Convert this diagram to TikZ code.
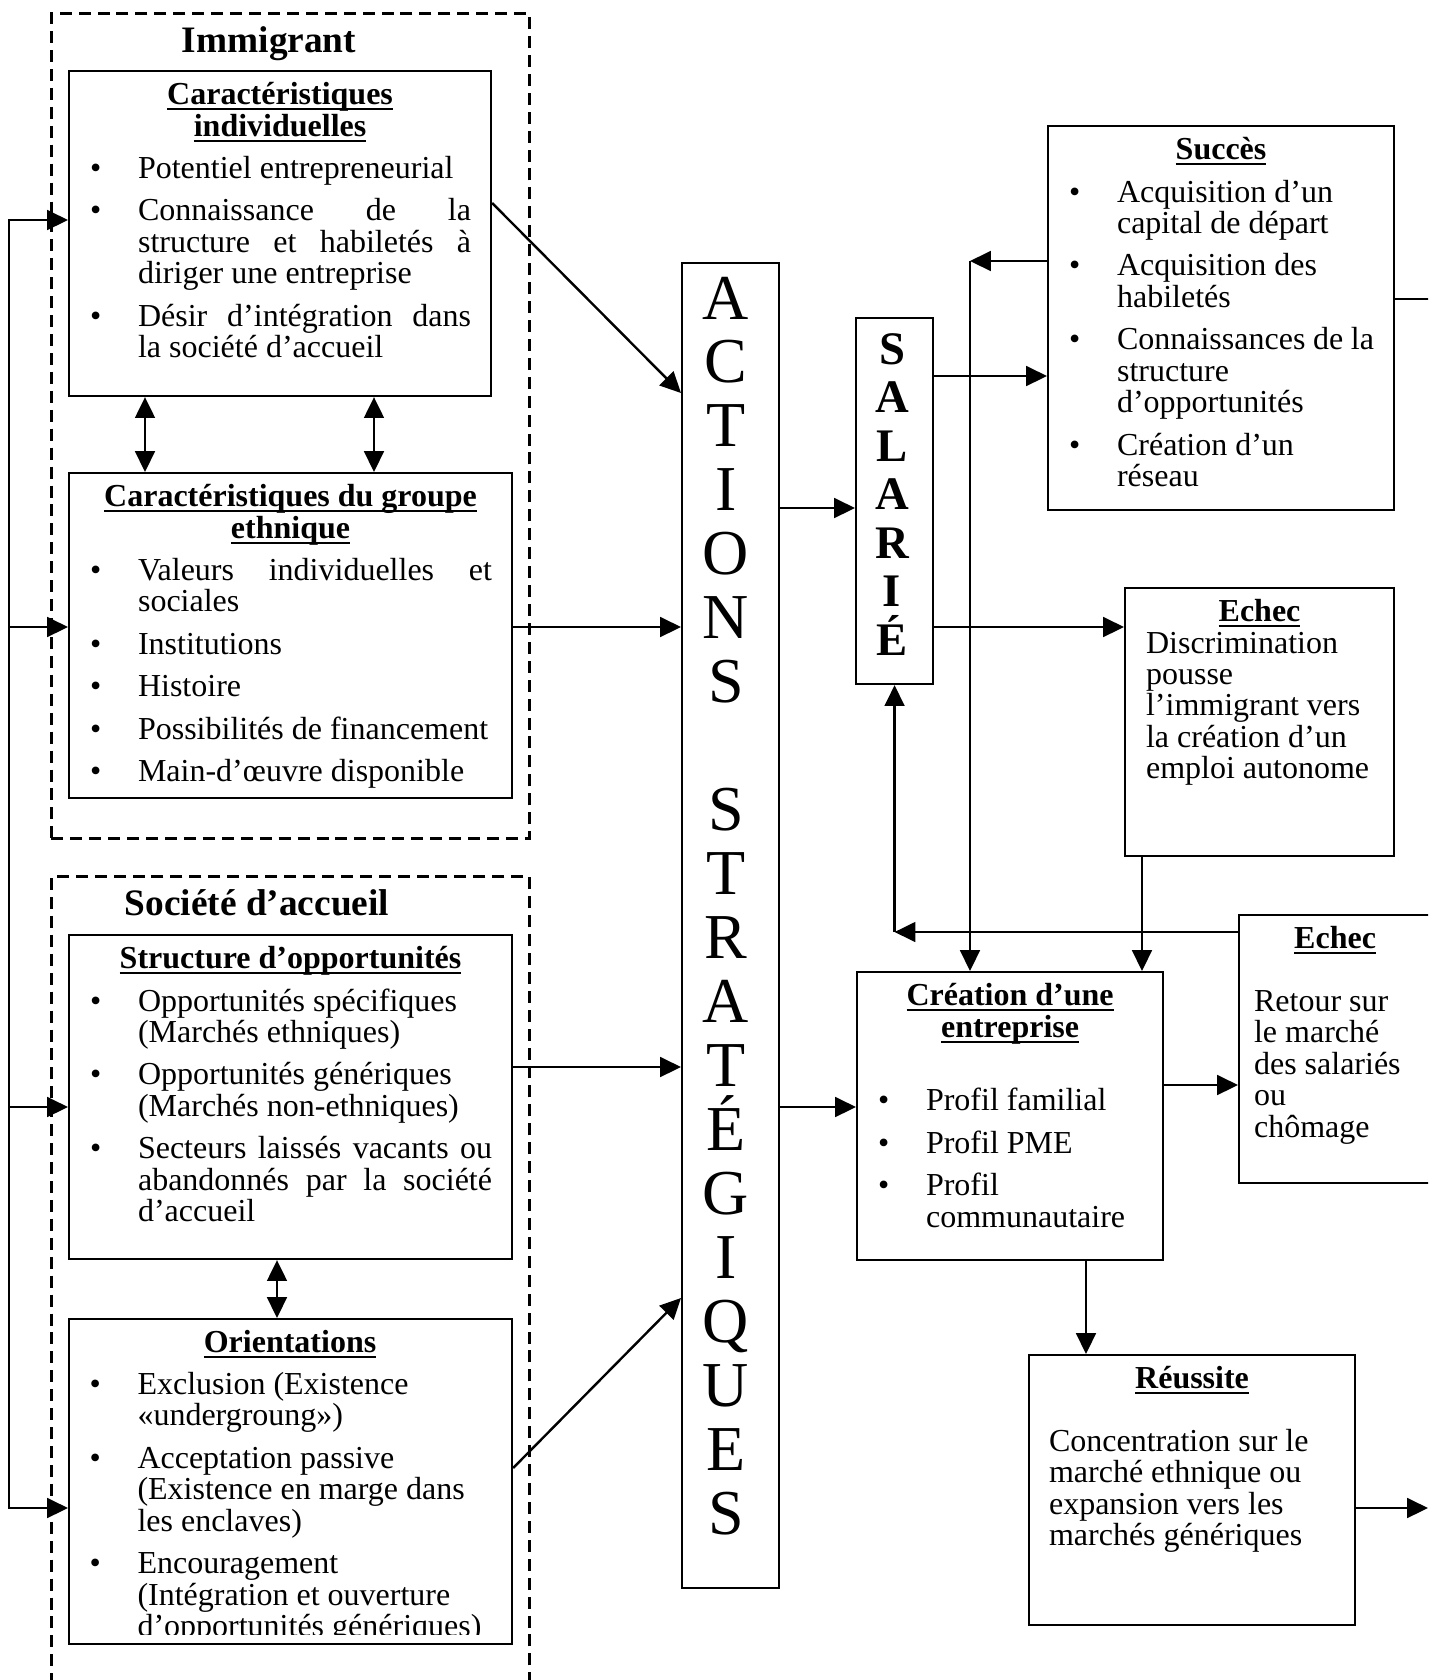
\documentclass[tikz,border=0pt]{standalone}
\usepackage{fontspec}
\setmainfont{Liberation Serif}
\usetikzlibrary{arrows.meta}

% one drawing unit
\newdimen\pxl \pxl=0.375pt

% text set inside the framed boxes
\newcommand\bodyfont{\fontsize{12}{11.8}\selectfont\lineskiplimit=-\maxdimen
  \parindent=0pt\parskip=0pt\rightskip=20\pxl\relax}
\newcommand\boxtext[3]{\parbox[c][#2\pxl][t]{#1\pxl}{\bodyfont\vskip2\pxl\hbox{}#3}}
\newcommand\uln[1]{\leavevmode\setbox0=\hbox{#1}\rlap{\rule[-2.2pt]{\wd0}{0.75pt}}\box0}
\newcommand\btitle[1]{{\centering\bfseries#1\par}}
\newcommand\bitem[1]{\par\parskip=11\pxl\hangindent=69\pxl\hangafter=1\noindent
  \hbox to 69\pxl{\hskip21\pxl\textbullet\hfil}#1\par}

\tikzset{
  boxframe/.style={draw, line width=0.8pt, inner sep=0pt},
  dashbox/.style={draw, dash pattern=on 4.5pt off 2.6pt, line width=1.1pt, inner sep=0pt},
  conn/.style={line width=0.9pt},
  arr/.style={conn, -{Triangle[length=7.8pt,width=7.4pt]}},
  dbl/.style={conn, {Triangle[length=7.8pt,width=7.4pt]}-{Triangle[length=7.8pt,width=7.4pt]}},
  grouplabel/.style={anchor=base, inner sep=0pt, font=\fontsize{14}{14}\selectfont\bfseries},
  bigletter/.style={anchor=base, inner sep=0pt, font=\fontsize{24}{24}\selectfont},
  boldletter/.style={anchor=base, inner sep=0pt, font=\fontsize{17.5}{17.5}\selectfont\bfseries},
}

\begin{document}
\begin{tikzpicture}[x=0.375pt, y=-0.375pt]
\useasboundingbox (0,0) rectangle (1435,1680);
\fill[white] (0,0) rectangle (1435,1680);
\clip (0,0) rectangle (1428,1680);

% ---------- group frames ----------
\node[dashbox, minimum width=478\pxl, minimum height=825\pxl, anchor=north west] (immig) at (50,12) {};
\node[dashbox, minimum width=478\pxl, minimum height=860\pxl, anchor=north west] (societe) at (50,875) {};
\node[grouplabel] (immig-label) at (269,52) {Immigrant};
\node[grouplabel] (societe-label) at (257,915) {Société d’accueil};

% ---------- left column ----------
\node[boxframe, anchor=north west] (indiv) at (68,70) {\boxtext{422}{325}{%
  \btitle{\uln{Caractéristiques}\\\uln{individuelles}}
  \bitem{Potentiel~entrepreneurial}
  \bitem{Connaissance~de~la\linebreak structure~et~habiletés~à\linebreak diriger~une~entreprise}
  \bitem{Désir~d’intégration~dans\linebreak la~société~d’accueil}}};

\node[boxframe, anchor=north west] (ethn) at (68,472) {\boxtext{443}{325}{%
  \btitle{\uln{Caractéristiques du groupe}\\\uln{ethnique}}
  \bitem{Valeurs~individuelles~et\linebreak sociales}
  \bitem{Institutions}
  \bitem{Histoire}
  \bitem{Possibilités~de~financement}
  \bitem{Main-d’œuvre~disponible}}};

\node[boxframe, anchor=north west] (opport) at (68,934) {\boxtext{443}{324}{%
  \btitle{\uln{Structure d’opportunités}}
  \bitem{Opportunités~spécifiques\\(Marchés~ethniques)}
  \bitem{Opportunités~génériques\\(Marchés~non-ethniques)}
  \bitem{Secteurs~laissés~vacants~ou\linebreak abandonnés~par~la~société\linebreak d’accueil}}};

\begin{scope}
  \clip (68,1318) rectangle (511,1634);
  \node[anchor=north west, inner sep=0pt] (orient-text) at (68,1318) {\boxtext{443}{325}{%
    \btitle{\uln{Orientations}}
    \bitem{Exclusion~(Existence\\«undergroung»)}
    \bitem{Acceptation~passive\\(Existence~en~marge~dans\\les~enclaves)}
    \bitem{Encouragement\\(Intégration~et~ouverture\\d’opportunités~génériques)}}};
\end{scope}
\node[boxframe, minimum width=443\pxl, minimum height=325\pxl, anchor=north west] (orient) at (68,1318) {};

% ---------- central columns ----------
\node[boxframe, minimum width=97\pxl, minimum height=1325\pxl, anchor=north west] (actions) at (681,262) {};
\foreach \k/\ch in {0/A,1/C,2/T,3/I,4/O,5/N,6/S,8/S,9/T,10/R,11/A,12/T,13/É,14/G,15/I,16/Q,17/U,18/E,19/S}
  \node[bigletter] (act-\k) at (726,{319+63.95*\k}) {\ch};

\node[boxframe, minimum width=77\pxl, minimum height=366\pxl, anchor=north west] (salarie) at (855,317) {};
\foreach \k/\ch in {0/S,1/A,2/L,3/A,4/R,5/I,6/É}
  \node[boldletter] (sal-\k) at (892,{364+48.5*\k}) {\ch};

% ---------- right column ----------
\node[boxframe, anchor=north west] (succes) at (1047,125) {\boxtext{346}{384}{%
  \btitle{\uln{Succès}}
  \bitem{Acquisition~d’un\\capital~de~départ}
  \bitem{Acquisition~des\\habiletés}
  \bitem{Connaissances~de~la\\structure\\d’opportunités}
  \bitem{Création~d’un\\réseau}}};

\node[boxframe, anchor=north west] (echecA) at (1124,587) {\boxtext{269}{268}{%
  \btitle{\uln{Echec}}
  {\leftskip=21\pxl Discrimination\\pousse\\l’immigrant~vers\\la~création~d’un\\emploi~autonome\par}}};

\node[boxframe, anchor=north west] (echecB) at (1238,914) {\boxtext{192}{268}{%
  \btitle{\uln{Echec}}\vskip\baselineskip
  {\leftskip=15\pxl Retour~sur\\le~marché\\des~salariés\\ou\\chômage\par}}};

\node[boxframe, anchor=north west] (creation) at (856,971) {\boxtext{306}{288}{%
  \btitle{\uln{Création d’une}\\\uln{entreprise}}\vskip\baselineskip
  \bitem{Profil~familial}
  \bitem{Profil~PME}
  \bitem{Profil\\communautaire}}};

\node[boxframe, anchor=north west] (reussite) at (1028,1354) {\boxtext{326}{270}{%
  \btitle{\uln{Réussite}}\vskip\baselineskip
  {\leftskip=20\pxl Concentration~sur~le\\marché~ethnique~ou\\expansion~vers~les\\marchés~génériques\par}}};

% ---------- feedback bus on the left ----------
\coordinate (busA) at (9,220);
\coordinate (busB) at (9,627);
\coordinate (busC) at (9,1107);
\coordinate (busD) at (9,1508);
\draw[arr] (busB) |- (indiv.west |- busA);
\draw[arr] (busB) |- (orient.west |- busD);
\draw[arr] (busB) -- (ethn.west |- busB);
\draw[arr] (busC) -- (opport.west |- busC);

% ---------- links inside the groups ----------
\draw[dbl] (indiv.south -| 145,0) -- (ethn.north -| 145,0);
\draw[dbl] (indiv.south -| 374,0) -- (ethn.north -| 374,0);
\draw[dbl] (opport.south -| 277,0) -- (orient.north -| 277,0);

% ---------- into the strategic actions ----------
\draw[arr] (indiv.east |- 0,203) -- (actions.west |- 0,393);
\draw[arr] (ethn.east |- 0,627) -- (actions.west |- 0,627);
\draw[arr] (opport.east |- 0,1067) -- (actions.west |- 0,1067);
\draw[arr] (orient.east |- 0,1468) -- (actions.west |- 0,1298);

% ---------- outcomes ----------
\draw[arr] (actions.east |- 0,508) -- (salarie.west |- 0,508);
\draw[arr] (actions.east |- 0,1107) -- (creation.west |- 0,1107);
\draw[arr] (salarie.east |- 0,376) -- (succes.west |- 0,376);
\draw[arr] (salarie.east |- 0,627) -- (echecA.west |- 0,627);

\coordinate (jSucc) at (970,261);
\draw[arr] (succes.west |- jSucc) -- (jSucc);
\draw[arr] (jSucc) -- (creation.north -| jSucc);

\coordinate (jRet) at (salarie.south |- 0,932);
\draw[arr] (echecB.west |- jRet) -- (jRet);
\draw[arr] (jRet) -- (salarie.south);

\draw[arr] (echecA.south -| 1142,0) -- (creation.north -| 1142,0);
\draw[arr] (creation.east |- 0,1085) -- (echecB.west |- 0,1085);
\draw[arr] (creation.south -| 1086,0) -- (reussite.north -| 1086,0);

\coordinate (outR) at (1428,1508);
\draw[arr] (reussite.east |- outR) -- (outR);
\coordinate (outS) at (1430,299);
\draw[conn] (succes.east |- outS) -- (outS);
\end{tikzpicture}
\end{document}
